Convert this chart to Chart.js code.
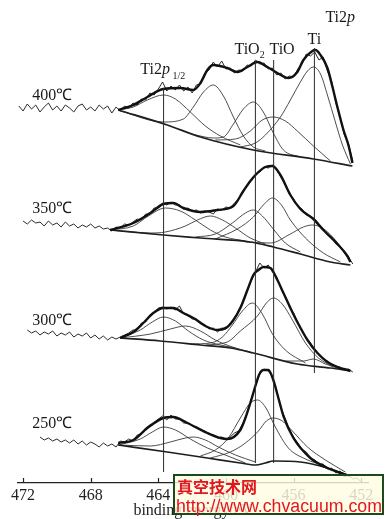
<!DOCTYPE html>
<html lang="zh">
<head>
    <meta charset="UTF-8">
    <title>Ti2p XPS spectra</title>
    <script src="https://cdn.jsdelivr.net/npm/chart.js@4.4.1/dist/chart.umd.min.js"></script>
    <style>
        html, body { margin: 0; padding: 0; background: #fff; }
        #wrap { width: 388px; height: 519px; position: relative; }
    </style>
</head>
<body>
    <div id="wrap"><canvas id="xps"></canvas></div>

    <script>
        // spectra, top to bottom
        const temps = ['400℃', '350℃', '300℃', '250℃'];
        const offsets = [375, 258, 148, 41];
        const tickValues = [472, 468, 464, 460, 456, 452];

        // Ti2p1/2, TiO2, TiO, Ti reference lines
        const markerEnergies = [463.69, 458.26, 457.18, 454.77];
        const markerSpans = [[11, 395], [20, 421], [20, 423], [110, 435]];

        // binding energy grid of the raw scans (eV)
        const energy = [472.25, 472, 471.75, 471.5, 471.25, 471, 470.75, 470.5, 470.25, 470,
            469.75, 469.5, 469.25, 469, 468.75, 468.5, 468.25, 468, 467.75, 467.5,
            467.25, 467, 466.75, 466.5, 466.25, 466, 465.75, 465.5, 465.25, 465,
            464.75, 464.5, 464.25, 464, 463.75, 463.5, 463.25, 463, 462.75, 462.5,
            462.25, 462, 461.75, 461.5, 461.25, 461, 460.75, 460.5, 460.25, 460,
            459.75, 459.5, 459.25, 459, 458.75, 458.5, 458.25, 458, 457.75, 457.5,
            457.25, 457, 456.75, 456.5, 456.25, 456, 455.75, 455.5, 455.25, 455,
            454.75, 454.5, 454.25, 454, 453.75, 453.5, 453.25, 453, 452.75, 452.5,
            452.25, 452];

        // raw counts (a.u., relative to each spectrum's baseline)
        const raw400 = [2, -3, 4, -1, 3, -4, 1, 5, -2, 2, -3, 3, 0, -4, 2, 4, -2, 1, -3, 3, -1, 2, -5, 1,
            -3, 2, 0, 5, 3, 9, 8, 15, 13, 19, 26, 17, 22, 18, 23, 17, 21, 15, 23, 24,
            35, 38, 46, 41, 47, 39, 40, 35, 38, 37, 43, 42, 48, 44, 45, 39, 40, 33, 35, 29,
            32, 31, 39, 44, 54, 52, 56, 48, 51, 37, 27, 5, -9, -27, -36, -53, null, null];
        const raw350 = [null, 4, 1, 5, 2, 3, -1, 4, 0, 2, -2, 3, -1, 1, -3, 0, -2, 1, -3, -1, -4, -3,
            -6, -2, -3, 1, 0, 3, 6, 5, 11, 11, 17, 17, 22, 20, 23, 20, 20, 16, 17, 14,
            15, 12, 14, 13, 11, 16, 15, 18, 17, 22, 26, 34, 40, 44, 51, 53, 58, 57, 60, 55,
            48, 41, 31, 26, 19, 16, 10, 9, 6, 1, -4, -10, -12, -19, -21, -28, -32, -39, null, null];
        const raw300 = [null, null, 5, 2, 4, 0, 3, 1, 4, -1, 2, 0, 3, -2, 1, -1, 2, -3, 0, -4, -1, -5, -2, -4,
            -2, 0, 2, 5, 5, 12, 13, 20, 22, 27, 28, 26, 28, 25, 29, 21, 20, 16, 16, 11,
            10, 6, 7, 3, 7, 6, 12, 16, 25, 33, 45, 54, 63, 72, 67, 70, 63, 58, 47, 39,
            28, 22, 12, 5, -3, -8, -15, -19, -24, -26, -30, -31, -32, -35, -34, -37, null, null];
        const raw250 = [null, null, null, null, null, 5, 2, 4, 1, 3, 0, 2, -1, 2, -2, 1, -3, 0, -2, -5, -1, -4, -2, -5,
            1, 0, 3, 1, 7, 8, 14, 17, 19, 23, 26, 22, 27, 23, 23, 19, 19, 16, 15, 12,
            11, 8, 7, 4, 5, 3, 5, 9, 11, 19, 29, 43, 56, 68, 73, 71, 65, 51, 34, 23,
            12, 5, -1, -7, -10, -16, -18, -22, -22, -27, -26, -31, -29, -35, -33, -37, -36, -40];

        // fitted envelopes [eV, a.u.]
        const fit400 = [[466.37, -2], [465.48, 3], [464.65, 11], [463.70, 19], [462.70, 20], [461.93, 18],
            [461.51, 25], [461.10, 38], [460.75, 43], [459.92, 40], [459.33, 36], [458.73, 41], [458.14, 46],
            [457.55, 41], [456.96, 35], [456.31, 30], [455.78, 36], [455.42, 48], [454.89, 57], [454.71, 58],
            [454.41, 53], [454.00, 40], [453.70, 21], [453.41, 1], [453.05, -22], [452.76, -37], [452.52, -55]];
        const fit350 = [[466.84, -5], [465.48, 2], [464.47, 12], [463.70, 21], [463.11, 22], [462.52, 17],
            [461.51, 13], [460.51, 15], [459.56, 19], [458.97, 34], [458.56, 44], [458.14, 52], [457.67, 58],
            [457.25, 59], [456.78, 50], [456.19, 30], [455.60, 16], [454.83, 6], [454.24, -5], [453.41, -19],
            [452.82, -31], [452.64, -37]];
        const fit300 = [[466.25, -3], [465.48, 3], [464.89, 12], [464.30, 22], [463.70, 27], [463.11, 27],
            [462.52, 22], [461.93, 17], [461.10, 8], [460.51, 5], [459.92, 8], [459.56, 15], [459.15, 27],
            [458.73, 45], [458.38, 60], [458.08, 65], [457.79, 68], [457.37, 67], [456.96, 55], [456.60, 42],
            [456.19, 27], [455.78, 13], [455.18, -5], [454.59, -18], [454.00, -27], [453.41, -32],
            [452.82, -35], [452.64, -36]];
        const fit250 = [[466.37, -1], [465.48, 2], [464.65, 14], [463.70, 24], [463.11, 25], [462.28, 19],
            [461.10, 9], [460.33, 4], [459.92, 3], [459.15, 12], [458.85, 24], [458.56, 39], [458.26, 56],
            [458.02, 68], [457.79, 72], [457.49, 72], [457.20, 62], [456.90, 44], [456.60, 26], [456.01, 4],
            [455.01, -16], [454.00, -26], [453.23, -31], [452.64, -34]];

        // backgrounds
        const bg400 = [[466.37, -2], [463.47, -17], [461.51, -29], [458.38, -42], [454.83, -51], [452.52, -58]];
        const bg350 = [[466.84, -5], [463.70, -10], [461.51, -13], [458.56, -17], [457.20, -22], [455.60, -29],
            [453.82, -37], [452.64, -40]];
        const bg300 = [[466.25, -3], [463.88, -6], [461.51, -10], [459.74, -13], [458.38, -18], [455.78, -29],
            [453.82, -33], [452.64, -36]];
        const bg250 = [[466.37, -3], [463.47, -10], [461.10, -16], [459.15, -21], [458.26, -23], [457.67, -21],
            [457.20, -19], [455.60, -20], [454.00, -26], [452.64, -34]];

        // fitted components
        const peaks400 = [
            [[466.37, -2], [465.48, 1], [464.65, 8], [463.70, 13], [462.99, 9], [462.11, -4], [461.22, -18], [460.33, -28], [459.15, -37]],
            [[466.25, -3], [463.70, -14], [462.52, -11], [461.93, 1], [461.33, 16], [460.75, 23], [460.15, 12], [459.56, -9], [458.97, -28], [458.38, -39], [457.67, -43]],
            [[461.81, -27], [460.75, -30], [460.15, -29], [459.56, -16], [458.97, -1], [458.38, 6], [457.79, -4], [457.20, -25], [456.60, -42], [455.60, -49]],
            [[460.63, -32], [459.44, -31], [458.56, -23], [457.85, -12], [457.20, -9], [456.49, -13], [455.78, -23], [454.83, -38], [453.82, -53]],
            [[459.15, -39], [458.26, -35], [457.67, -27], [456.78, -9], [456.19, 8], [455.60, 26], [455.18, 37], [454.83, 41], [454.41, 34], [454.00, 13], [453.53, -14], [453.11, -37], [452.64, -56]]
        ];
        const peaks350 = [
            [[466.84, -5], [465.48, -1], [464.59, 9], [463.59, 17], [462.70, 14], [461.81, 5], [460.92, -5], [460.04, -12], [458.85, -16]],
            [[466.84, -5], [464.47, -8], [463.59, -7], [462.40, -1], [461.69, 5], [460.92, 9], [460.21, 5], [459.44, -3], [458.56, -13], [457.67, -19]],
            [[461.81, -12], [460.63, -9], [459.62, 2], [458.85, 12], [458.38, 15], [457.85, 9], [457.25, -3], [456.49, -18], [455.60, -27]],
            [[460.63, -14], [459.33, -4], [458.38, 8], [457.79, 20], [457.25, 27], [456.72, 20], [456.19, 5], [455.30, -13], [454.24, -28], [453.23, -37]],
            [[458.85, -17], [457.37, -18], [456.19, -9], [455.42, -2], [454.89, 0], [454.30, -3], [453.64, -13], [453.05, -26], [452.64, -37]]
        ];
        const peaks300 = [
            [[466.25, -3], [465.07, 5], [464.36, 13], [463.70, 18], [462.99, 14], [462.22, 4], [461.33, -5], [460.33, -10], [459.44, -13]],
            [[466.25, -3], [464.47, 1], [463.29, 6], [462.40, 9], [461.51, 4], [460.63, -5], [459.62, -12], [458.56, -17]],
            [[462.11, -9], [460.92, -8], [460.21, -2], [459.62, 10], [459.03, 24], [458.44, 32], [457.85, 21], [457.25, 1], [456.49, -15], [455.30, -28]],
            [[461.22, -10], [459.92, -7], [459.15, 4], [458.14, 19], [457.61, 32], [457.20, 37], [456.67, 31], [456.07, 15], [455.30, -8], [454.53, -23], [453.64, -32]],
            [[456.49, -26], [455.42, -26], [454.83, -24], [454.12, -29], [453.23, -34]]
        ];
        const peaks250 = [
            [[466.37, -3], [465.07, 3], [464.36, 10], [463.70, 15], [462.99, 12], [462.11, 3], [461.10, -6], [460.04, -13], [458.85, -21]],
            [[466.37, -3], [464.47, -4], [463.29, 0], [462.40, 4], [461.93, 5], [461.22, 2], [460.45, -5], [459.44, -13], [458.26, -20]],
            [[461.51, -14], [460.63, -8], [459.86, 4], [459.15, 24], [458.56, 39], [458.14, 42], [457.67, 35], [457.08, 15], [456.31, -6], [455.30, -17], [454.12, -24]],
            [[460.92, -16], [459.74, -10], [458.85, -1], [458.08, 11], [457.61, 21], [457.20, 24], [456.67, 21], [456.07, 11], [455.18, -5], [454.12, -18], [452.94, -30]]
        ];

        const raws = [raw400, raw350, raw300, raw250];
        const fits = [fit400, fit350, fit300, fit250];
        const bgs = [bg400, bg350, bg300, bg250];
        const peaks = [peaks400, peaks350, peaks300, peaks250];

        const SERIF = '"Liberation Serif", "Times New Roman", serif';
        const line = (pts, color, width, smooth) => ({
            data: pts, borderColor: color, borderWidth: width, pointRadius: 0,
            fill: false, spanGaps: false,
            cubicInterpolationMode: smooth ? 'monotone' : 'default'
        });
        const shift = (pairs, off) => pairs.map(([e, v]) => ({ x: e, y: off + v }));

        // first dataset ends on top
        const datasets = [];
        markerEnergies.forEach((e, k) => {
            datasets.push(line([{ x: e, y: markerSpans[k][0] }, { x: e, y: markerSpans[k][1] }], '#2b2b2b', 1, false));
        });
        temps.forEach((t, k) => {
            datasets.push(line(shift(fits[k], offsets[k]), '#111', 2.4, true));
            datasets.push(line(energy.map((e, i) => ({ x: e, y: raws[k][i] === null ? null : offsets[k] + raws[k][i] })), '#2a2a2a', 1, false));
            datasets.push(line(shift(bgs[k], offsets[k]), '#1e1e1e', 1.7, true));
            peaks[k].forEach(p => datasets.push(line(shift(p, offsets[k]), '#3a3a3a', 0.9, true)));
        });

        function rich(ctx, x0, y0, parts) {
            let cx = x0;
            parts.forEach(([txt, font, dy]) => {
                ctx.font = font;
                ctx.fillText(txt, cx, y0 + (dy || 0));
                cx += ctx.measureText(txt).width;
            });
        }

        const labels = {
            id: 'labels',
            afterDatasetsDraw(chart) {
                const { ctx, scales: { x, y } } = chart;
                ctx.save();
                ctx.fillStyle = '#1a1a1a';
                ctx.textBaseline = 'alphabetic';
                ctx.textAlign = 'left';
                const lift = [8, 12, 10, 14];
                temps.forEach((t, k) => {
                    ctx.font = '16px ' + SERIF;
                    ctx.fillText(t, x.getPixelForValue(471.45), y.getPixelForValue(offsets[k] + lift[k]));
                });
                const n16 = '16px ' + SERIF, i16 = 'italic 16px ' + SERIF, n10 = '10px ' + SERIF;
                rich(ctx, x.getPixelForValue(465.07), y.getPixelForValue(409), [['Ti2', n16], ['p', i16], [' 1/2', n10, 5]]);
                rich(ctx, x.getPixelForValue(459.50), y.getPixelForValue(429), [['TiO', n16], ['2', n10, 4]]);
                rich(ctx, x.getPixelForValue(457.43), y.getPixelForValue(429), [['TiO', n16]]);
                ctx.font = n16;
                ctx.textAlign = 'center';
                ctx.fillText('Ti', x.getPixelForValue(454.77), y.getPixelForValue(439));
                ctx.textAlign = 'left';
                rich(ctx, x.getPixelForValue(454.12), y.getPixelForValue(461), [['Ti2', n16], ['p', i16]]);
                ctx.restore();
            },
            afterDraw(chart) {
                const { ctx, scales: { x } } = chart;
                ctx.save();
                // upward tick marks on the energy axis
                ctx.strokeStyle = '#222';
                ctx.lineWidth = 1.2;
                tickValues.forEach(v => {
                    const px = Math.round(x.getPixelForValue(v)) + 0.5;
                    ctx.beginPath();
                    ctx.moveTo(px, x.top);
                    ctx.lineTo(px, x.top - 5);
                    ctx.stroke();
                });
                // site watermark
                ctx.fillStyle = 'rgba(255, 252, 226, 0.82)';
                ctx.fillRect(174, 475, 209, 39);
                ctx.strokeStyle = '#1d4a1d';
                ctx.lineWidth = 2;
                ctx.strokeRect(174, 475, 209, 39);
                ctx.fillStyle = '#e3161d';
                ctx.textAlign = 'left';
                ctx.font = 'bold 16px "Noto Sans CJK SC", sans-serif';
                ctx.fillText('真空技术网', 177, 493);
                ctx.font = '18px "Liberation Sans", Arial, sans-serif';
                ctx.fillText('http://www.chvacuum.com', 176, 512, 206);
                ctx.restore();
            }
        };

        new Chart(document.getElementById('xps'), {
            type: 'line',
            data: { datasets },
            options: {
                responsive: true,
                maintainAspectRatio: false,
                animation: false,
                layout: { padding: { left: 18, right: 20, top: 5, bottom: 0 } },
                plugins: { legend: { display: false }, tooltip: { enabled: false } },
                scales: {
                    x: {
                        type: 'linear',
                        reverse: true,
                        min: 451.6,
                        max: 472.3,
                        afterBuildTicks: s => { s.ticks = tickValues.map(v => ({ value: v })); },
                        afterFit: s => { s.height = 36; },
                        grid: { display: false, drawTicks: false },
                        border: { display: true, color: '#222', width: 1.3 },
                        ticks: { color: '#222', padding: 3, maxRotation: 0, font: { family: SERIF, size: 16, lineHeight: 1.2 } },
                        title: {
                            display: true, text: 'binding energy/eV', color: '#222',
                            font: { family: SERIF, size: 16, lineHeight: 1.0 },
                            padding: { top: 0, bottom: 0 }
                        }
                    },
                    y: { display: false, min: 0, max: 478 }
                }
            },
            plugins: [labels]
        });
    </script>
</body>
</html>
